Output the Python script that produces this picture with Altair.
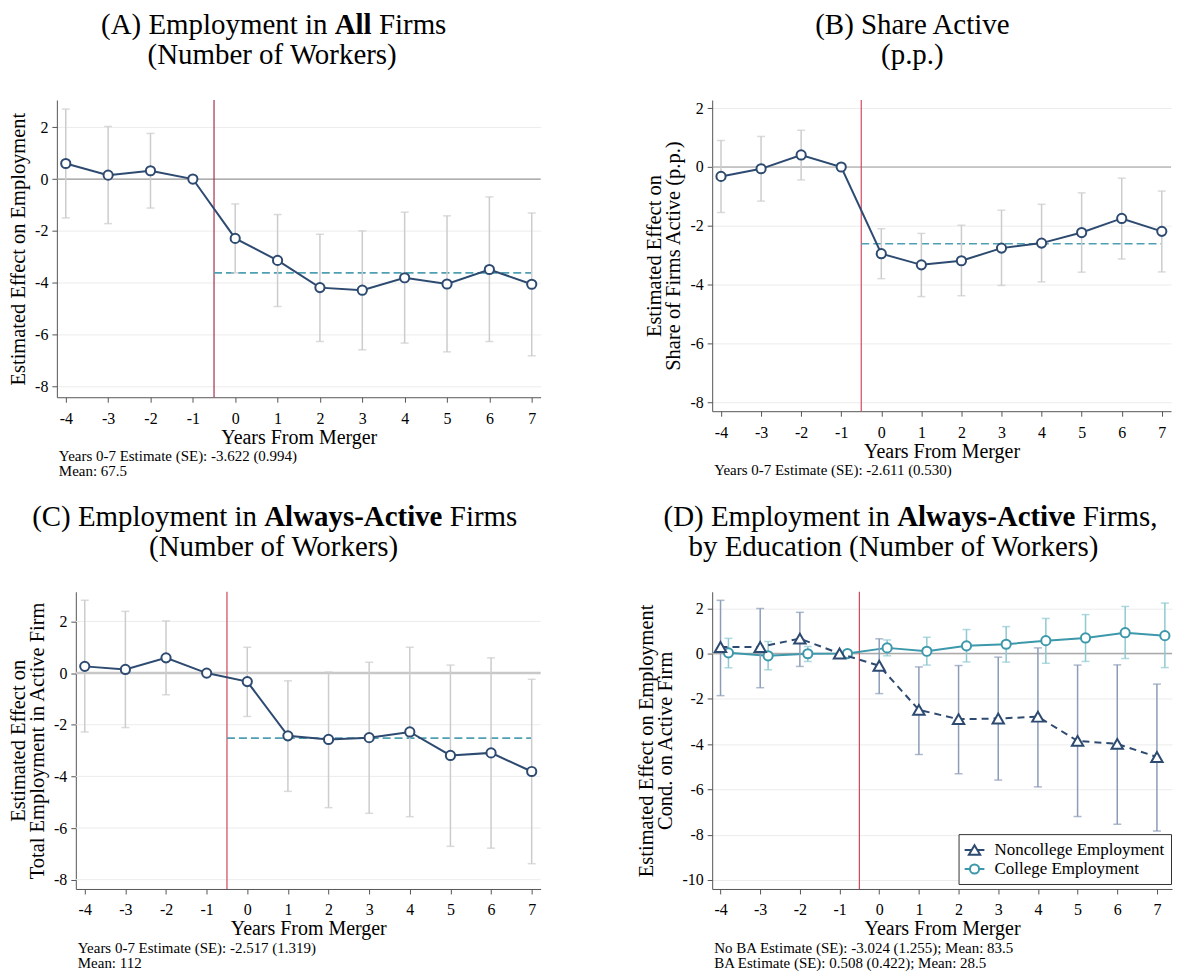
import altair as alt
import pandas as pd

# ---------------- data ----------------
years = [-4, -3, -2, -1, 0, 1, 2, 3, 4, 5, 6, 7]
event_x = -0.5          # merger line between -1 and 0
college_shift = 0.2     # college series plotted slightly to the right

# (A) Employment in All Firms
a_est = [0.60, 0.15, 0.32, 0.0, -2.29, -3.14, -4.19, -4.29, -3.81, -4.05, -3.49, -4.06]
a_lo = [-1.50, -1.72, -1.12, None, -3.62, -4.92, -6.27, -6.59, -6.33, -6.67, -6.27, -6.82]
a_hi = [2.70, 2.03, 1.76, None, -0.96, -1.37, -2.13, -2.00, -1.28, -1.42, -0.69, -1.31]
a_avg = -3.622

# (B) Share Active
b_est = [-0.32, -0.06, 0.41, 0.0, -2.95, -3.33, -3.19, -2.76, -2.59, -2.23, -1.75, -2.19]
b_lo = [-1.55, -1.16, -0.44, None, -3.80, -4.41, -4.38, -4.03, -3.91, -3.58, -3.13, -3.57]
b_hi = [0.90, 1.04, 1.25, None, -2.10, -2.26, -1.98, -1.47, -1.27, -0.88, -0.38, -0.82]
b_avg = -2.611

# (C) Employment in Always-Active Firms
c_est = [0.26, 0.14, 0.59, 0.0, -0.33, -2.43, -2.57, -2.50, -2.28, -3.19, -3.09, -3.81]
c_lo = [-2.28, -2.11, -0.84, None, -1.68, -4.58, -5.21, -5.43, -5.56, -6.71, -6.78, -7.38]
c_hi = [2.82, 2.39, 2.02, None, 1.00, -0.30, 0.04, 0.42, 1.00, 0.31, 0.59, -0.24]
c_avg = -2.517

# (D) by education
series_names = ["Noncollege Employment", "College Employment"]
n_est = [0.29, 0.29, 0.66, 0.0, -0.54, -2.49, -2.90, -2.87, -2.79, -3.86, -3.99, -4.57]
n_lo = [-1.86, -1.51, -0.57, None, -1.77, -4.46, -5.31, -5.59, -5.89, -7.20, -7.54, -7.84]
n_hi = [2.35, 1.99, 1.82, None, 0.65, -0.59, -0.53, -0.16, 0.25, -0.51, -0.50, -1.35]
k_est = [0.03, -0.10, -0.01, 0.0, 0.25, 0.10, 0.34, 0.41, 0.57, 0.69, 0.92, 0.79]
k_lo = [-0.63, -0.72, -0.35, None, -0.10, -0.51, -0.37, -0.38, -0.43, -0.35, -0.22, -0.62]
k_hi = [0.67, 0.53, 0.31, None, 0.60, 0.72, 1.06, 1.19, 1.55, 1.72, 2.08, 2.23]

# text
title_a = ["(A) Employment in", "All", "Firms", "(Number of Workers)"]
title_b = ["(B) Share Active", "(p.p.)"]
title_c = ["(C) Employment in", "Always-Active", "Firms", "(Number of Workers)"]
title_d = ["(D) Employment in", "Always-Active", "Firms,", "by Education (Number of Workers)"]
ytitle_a = "Estimated Effect on Employment"
ytitle_b = ["Estimated Effect on", "Share of Firms Active (p.p.)"]
ytitle_c = ["Estimated Effect on", "Total Employment in Active Firm"]
ytitle_d = ["Estimated Effect on Employment", "Cond. on Active Firm"]
xtitle = "Years From Merger"
notes_a = ["Years 0-7 Estimate (SE): -3.622 (0.994)", "Mean: 67.5"]
notes_b = ["Years 0-7 Estimate (SE): -2.611 (0.530)"]
notes_c = ["Years 0-7 Estimate (SE): -2.517 (1.319)", "Mean: 112"]
notes_d = ["No BA Estimate (SE): -3.024 (1.255); Mean: 83.5",
           "BA Estimate (SE): 0.508 (0.422); Mean: 28.5"]
yticks_main = [-8, -6, -4, -2, 0, 2]
yticks_d = [-10, -8, -6, -4, -2, 0, 2]

# ---------------- style ----------------
FONT = "Liberation Serif"
NAVY = "#2d4a70"
TEAL = "#3c98aa"
DASH_TEAL = "#4f9fb3"
CI_GRAY = "#cccccc"
CI_NAVY = "#8c9cb8"
CI_TEAL = "#8fc9d2"
AXIS_C = "#555555"
GRID_C = "#ececec"
TITLE_FS = 29
NOTE_FS = 15
LABEL_EXPR = "'' + datum.value"
TRI_PATH = "M-1.1,0L-0.32,0M0.32,0L1.1,0M0,-0.55L0.63,0.53L-0.63,0.53Z"
CIRC_PATH = "M-1.1,0L-0.51,0M0.51,0L1.1,0M0.51,0A0.51,0.51,0,1,1,-0.51,0A0.51,0.51,0,1,1,0.51,0Z"


def make_enc(xdom, ydom, yvals, ytitle, w, shift=0):
    xaxis = alt.Axis(values=years, labelExpr=LABEL_EXPR, title=xtitle, grid=False, tickSize=5,
                     labelPadding=8, titlePadding=1, domainColor=AXIS_C, tickColor=AXIS_C,
                     labelFont=FONT, labelFontSize=16, labelColor="black", titleFont=FONT,
                     titleFontSize=20, titleFontWeight="normal", titleColor="black")
    yaxis = alt.Axis(values=yvals, labelExpr=LABEL_EXPR, title=ytitle, grid=(shift == 0),
                     gridColor=GRID_C, gridWidth=1, tickSize=5, labelPadding=4, titlePadding=6,
                     labelAngle=0, offset=-shift,
                     domainColor=AXIS_C, tickColor=AXIS_C, labelFont=FONT, labelFontSize=16,
                     labelColor="black", titleFont=FONT, titleFontSize=20.5,
                     titleFontWeight="normal", titleColor="black", titleLineHeight=19.5)
    if shift:
        xs = alt.Scale(domain=xdom, nice=False, zero=False, range=[shift, w])
    else:
        xs = alt.Scale(domain=xdom, nice=False, zero=False)
    ys = alt.Scale(domain=ydom, nice=False, zero=False)

    def X(f):
        return alt.X(f, type="quantitative", scale=xs, axis=xaxis)

    def Y(f):
        return alt.Y(f, type="quantitative", scale=ys, axis=yaxis)
    return X, Y


def txt(s, x, y, size, weight="normal", align="left"):
    return alt.Chart(pd.DataFrame({"t": [s]})).mark_text(
        align=align, baseline="alphabetic", font=FONT, fontSize=size,
        fontWeight=weight, color="black").encode(text="t:N", x=alt.value(x), y=alt.value(y))


def bold_title(parts, bold_x, bold_w, y1, y2, center2):
    sp = TITLE_FS * 0.25
    return [
        txt(parts[0], bold_x - sp, y1, TITLE_FS, align="right"),
        txt(parts[1], bold_x, y1, TITLE_FS, weight="bold", align="left"),
        txt(parts[2], bold_x + bold_w + sp, y1, TITLE_FS, align="left"),
        txt(parts[3], center2, y2, TITLE_FS, align="center"),
    ]


def note_layers(notes, h, x0=2):
    return [txt(s, x0, h + 64 + 15 * i, NOTE_FS) for i, s in enumerate(notes)]


def ref_layers(X, Y, red, zero_color, zero_w, w, shift=0, yvals=None, avg=None):
    layers = []
    if shift:
        layers.append(
            alt.Chart(pd.DataFrame({"y": yvals})).mark_rule(color=GRID_C, strokeWidth=1)
            .encode(y=Y("y"), x=alt.value(shift), x2=alt.value(w)))
        layers.append(
            alt.Chart(pd.DataFrame({"y": [0]})).mark_rule(color=zero_color, strokeWidth=zero_w)
            .encode(y=Y("y"), x=alt.value(shift), x2=alt.value(w)))
    else:
        layers.append(
            alt.Chart(pd.DataFrame({"y": [0]})).mark_rule(color=zero_color, strokeWidth=zero_w)
            .encode(y=Y("y")))
    layers.append(
        alt.Chart(pd.DataFrame({"x": [event_x]})).mark_rule(color=red, strokeWidth=1.2).encode(x=X("x")))
    if avg is not None:
        layers.append(
            alt.Chart(pd.DataFrame({"x0": [event_x], "x1": [years[-1]], "y": [avg]}))
            .mark_rule(color=DASH_TEAL, strokeWidth=1.6, strokeDash=[8, 4])
            .encode(x=X("x0"), x2="x1", y=Y("y")))
    return layers


def series_layers(df, X, Y, color, ci_color, shape, size, dash=None):
    ci = df.transform_filter("isValid(datum.lo)")
    line_kw = dict(color=color, strokeWidth=2)
    if dash:
        line_kw["strokeDash"] = dash
    return [
        ci.mark_rule(color=ci_color, strokeWidth=1.5).encode(x=X("x"), y=Y("lo"), y2="hi"),
        ci.mark_tick(orient="horizontal", color=ci_color, size=8, thickness=1.5).encode(x=X("x"), y=Y("lo")),
        ci.mark_tick(orient="horizontal", color=ci_color, size=8, thickness=1.5).encode(x=X("x"), y=Y("hi")),
        df.mark_line(**line_kw).encode(x=X("x"), y=Y("est")),
        df.mark_point(filled=True, fill="white", stroke=color, strokeWidth=2, shape=shape,
                      size=size, opacity=1).encode(x=X("x"), y=Y("est")),
    ]


def simple_panel(est, lo, hi, avg, xdom, ydom, ytitle, w, h, red, zero_color, zero_w,
                 title_layers, notes, shift=0):
    X, Y = make_enc(xdom, ydom, yticks_main, ytitle, w, shift)
    df = alt.Chart(pd.DataFrame({"x": years, "est": est, "lo": lo, "hi": hi}))
    layers = ref_layers(X, Y, red, zero_color, zero_w, w, shift, yticks_main, avg)
    layers += series_layers(df, X, Y, NAVY, CI_GRAY, "circle", 85)
    layers += title_layers + note_layers(notes, h, 2 + shift)
    return alt.layer(*layers).properties(width=w, height=h)


T1, T2 = -66, -36

pA = simple_panel(a_est, a_lo, a_hi, a_avg, [-4.21, 7.21], [-8.42, 3.05], ytitle_a, 485, 298,
                  "#a83048", "#9a9a9a", 1.2,
                  bold_title(title_a, 278.5, 37.1, T1, T2, 215.8), notes_a)

pB = simple_panel(b_est, b_lo, b_hi, b_avg, [-4.22, 7.23], [-8.31, 2.28], ytitle_b, 460, 312,
                  "#d8485e", "#9a9a9a", 1.2,
                  [txt(title_b[0], 200.7, T1, TITLE_FS, align="center"),
                   txt(title_b[1], 200.7, T2, TITLE_FS, align="center")], notes_b)

C_SHIFT = 19
pC = simple_panel(c_est, c_lo, c_hi, c_avg, [-4.22, 7.22], [-8.36, 3.15], ytitle_c, 485, 298,
                  "#d04858", "#c8c8c8", 2.5,
                  bold_title(title_c, 188.9 + C_SHIFT, 178.8, T1, T2, 198.3 + C_SHIFT), notes_c,
                  shift=C_SHIFT)

# panel D
XD, YD = make_enc([-4.21, 7.38], [-10.4, 2.73], yticks_d, ytitle_d, 461)
nd = alt.Chart(pd.DataFrame({"x": years, "est": n_est, "lo": n_lo, "hi": n_hi}))
kd = alt.Chart(pd.DataFrame({"year": years, "est": k_est, "lo": k_lo, "hi": k_hi})).transform_calculate(
    x=f"datum.year + {college_shift}")
leg_df = pd.DataFrame({"series": series_names, "x": [-1, -1], "est": [0, 0]})
legend = alt.Legend(orient="none", legendX=247, legendY=243, direction="vertical",
                    strokeColor="#333333", fillColor="white", padding=6, labelFont=FONT,
                    labelFontSize=17, labelColor="black", labelLimit=400, symbolSize=324,
                    symbolStrokeWidth=2, symbolOpacity=1, rowPadding=0, labelOffset=10,
                    cornerRadius=0)
leg_layer = alt.Chart(leg_df).mark_point(filled=False, opacity=0, strokeWidth=2).encode(
    x=XD("x"), y=YD("est"),
    color=alt.Color("series:N", title=None,
                    scale=alt.Scale(domain=series_names, range=[NAVY, TEAL]), legend=legend),
    shape=alt.Shape("series:N", title=None,
                    scale=alt.Scale(domain=series_names, range=[TRI_PATH, CIRC_PATH]), legend=legend),
)
d_layers = ref_layers(XD, YD, "#d04858", "#aaaaaa", 1.4, 461)
d_layers += series_layers(kd, XD, YD, TEAL, CI_TEAL, "circle", 85)
d_layers += series_layers(nd, XD, YD, NAVY, CI_NAVY, "triangle-up", 130, dash=[7, 5])
d_layers += [leg_layer]
d_layers += bold_title(title_d, 185.5, 178.8, T1, T2, 181.7) + note_layers(notes_d, 298)
pD = alt.layer(*d_layers).properties(width=461, height=298)

chart = alt.concat(pA, pB, pC, pD, columns=2,
                   spacing={"row": 24, "column": 94}).properties(
    padding={"left": 0, "top": 2, "right": 0, "bottom": 0}
).resolve_legend(color="independent", shape="independent").configure_view(stroke=None)

chart.save("out.html", embed_options={"renderer": "svg", "actions": False})
